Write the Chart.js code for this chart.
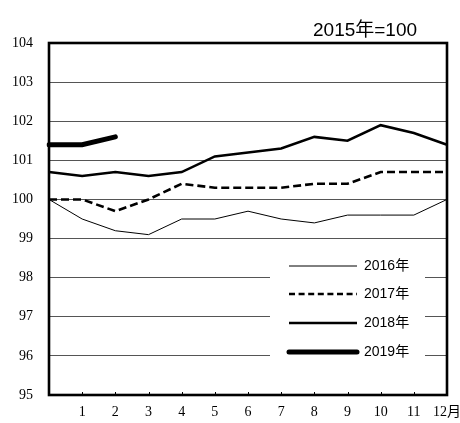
<!DOCTYPE html>
<html>
<head>
<meta charset="utf-8">
<script src="https://cdn.jsdelivr.net/npm/chart.js@4.4.1/dist/chart.umd.min.js"></script>
<style>
html,body{margin:0;padding:0;background:#fff;}
canvas{display:block;}
</style>
</head>
<body>
<canvas id="c" width="460" height="423"></canvas>
<script>
const months = ['', '1', '2', '3', '4', '5', '6', '7', '8', '9', '10', '11', '12月'];
const seriesLabels = ['2016年', '2017年', '2018年', '2019年'];
const v2016 = [100.0, 99.5, 99.2, 99.1, 99.5, 99.5, 99.7, 99.5, 99.4, 99.6, 99.6, 99.6, 100.0];
const v2017 = [100.0, 100.0, 99.7, 100.0, 100.4, 100.3, 100.3, 100.3, 100.4, 100.4, 100.7, 100.7, 100.7];
const v2018 = [100.7, 100.6, 100.7, 100.6, 100.7, 101.1, 101.2, 101.3, 101.6, 101.5, 101.9, 101.7, 101.4];
const v2019 = [101.4, 101.4, 101.6];
const yMin = 95, yMax = 104;
const titleText = '2015年=100';

const SERIF = '"Liberation Serif", "DejaVu Serif", "Noto Sans CJK JP", serif';
const SANS = '"Liberation Sans", "Noto Sans CJK JP", sans-serif';

const frameAndExtras = {
  id: 'frameAndExtras',
  afterDatasetsDraw(chart) {
    const ctx = chart.ctx;
    const a = chart.chartArea;
    const xs = chart.scales.x;
    ctx.save();
    ctx.strokeStyle = '#000';
    ctx.lineWidth = 1;
    for (let i = 1; i < months.length - 1; i++) {
      const px = Math.round(xs.getPixelForValue(i)) + 0.5;
      ctx.beginPath();
      ctx.moveTo(px, a.bottom);
      ctx.lineTo(px, a.bottom - 3);
      ctx.stroke();
    }
    ctx.lineWidth = 2.6;
    ctx.strokeRect(a.left, a.top, a.right - a.left, a.bottom - a.top);
    ctx.fillStyle = '#fff';
    ctx.fillRect(270, 251, 155, 112);
    const rows = [266, 294, 323, 352];
    chart.data.datasets.forEach((ds, i) => {
      const y = rows[i];
      ctx.beginPath();
      ctx.strokeStyle = '#000';
      ctx.lineWidth = ds.borderWidth;
      ctx.lineCap = ds.borderCapStyle || 'butt';
      ctx.setLineDash(ds.borderDash && ds.borderDash.length ? [6, 3.6] : []);
      ctx.moveTo(289, y);
      ctx.lineTo(357, y);
      ctx.stroke();
      ctx.setLineDash([]);
      ctx.fillStyle = '#000';
      ctx.font = '14px ' + SANS;
      ctx.textBaseline = 'middle';
      ctx.textAlign = 'left';
      ctx.fillText(ds.label, 364, y + 0.5);
    });
    ctx.font = '19px ' + SANS;
    ctx.textBaseline = 'alphabetic';
    ctx.textAlign = 'left';
    ctx.fillText(titleText, 313, 36);
    ctx.restore();
  }
};

new Chart(document.getElementById('c'), {
  type: 'line',
  data: {
    labels: months,
    datasets: [
      { label: seriesLabels[0], data: v2016, borderColor: '#000', borderWidth: 1, pointRadius: 0, tension: 0, fill: false },
      { label: seriesLabels[1], data: v2017, borderColor: '#000', borderWidth: 2.6, borderDash: [8, 4], pointRadius: 0, tension: 0, fill: false },
      { label: seriesLabels[2], data: v2018, borderColor: '#000', borderWidth: 2.6, pointRadius: 0, tension: 0, fill: false },
      { label: seriesLabels[3], data: v2019, borderColor: '#000', borderWidth: 5, borderCapStyle: 'round', pointRadius: 0, tension: 0, fill: false }
    ]
  },
  options: {
    responsive: false,
    animation: false,
    devicePixelRatio: 1,
    layout: { padding: { top: 43, right: 13, left: 0, bottom: 0 } },
    plugins: { legend: { display: false }, title: { display: false }, tooltip: { enabled: false } },
    scales: {
      x: {
        type: 'category',
        offset: false,
        grid: { display: false, drawTicks: false },
        border: { display: false },
        ticks: { autoSkip: false, maxRotation: 0, padding: 9, color: '#000', font: { family: SERIF, size: 14 } },
        afterFit(s) { s.height = 28; s.paddingLeft = 0; s.paddingRight = 0; }
      },
      y: {
        min: yMin,
        max: yMax,
        grid: { color: '#555', lineWidth: 1, drawTicks: false },
        border: { display: false },
        ticks: { stepSize: 1, padding: 16, color: '#000', font: { family: SERIF, size: 14 } },
        afterFit(s) { s.width = 49; s.paddingTop = 0; s.paddingBottom = 0; }
      }
    }
  },
  plugins: [frameAndExtras]
});
</script>
</body>
</html>
